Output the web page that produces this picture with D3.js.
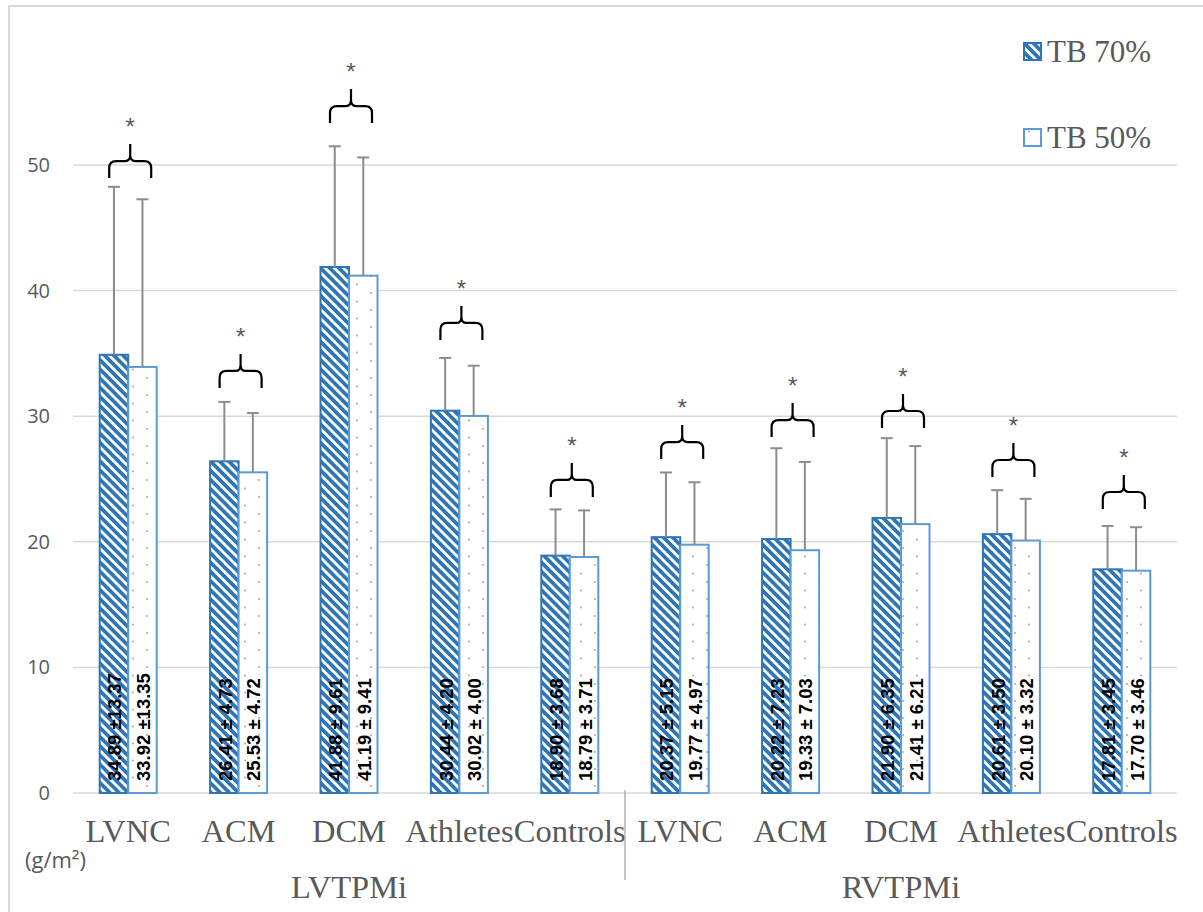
<!DOCTYPE html>
<html><head><meta charset="utf-8">
<script src="https://cdn.jsdelivr.net/npm/d3@7"></script>
<style>html,body{margin:0;padding:0;background:#fff;}svg{display:block;}</style>
</head><body>
<script>
const groups = ["LVTPMi", "RVTPMi"];
const categories = ["LVNC", "ACM", "DCM", "Athletes", "Controls", "LVNC", "ACM", "DCM", "Athletes", "Controls"];
const groupOf = [0,0,0,0,0,1,1,1,1,1];
const seriesNames = ["TB 70%", "TB 50%"];
const tb70 = [34.89, 26.41, 41.88, 30.44, 18.90, 20.37, 20.22, 21.90, 20.61, 17.81];
const tb70sd = [13.37, 4.73, 9.61, 4.20, 3.68, 5.15, 7.23, 6.35, 3.50, 3.45];
const tb50 = [33.92, 25.53, 41.19, 30.02, 18.79, 19.77, 19.33, 21.41, 20.10, 17.70];
const tb50sd = [13.35, 4.72, 9.41, 4.00, 3.71, 4.97, 7.03, 6.21, 3.32, 3.46];
const braceLevel = [48.96, 32.25, 53.34, 36.07, 23.57, 26.59, 28.34, 29.06, 25.16, 22.61];
const yTicks = [0, 10, 20, 30, 40, 50];
const unitLabel = "(g/m²)";

const W = 1203, H = 912;
const svg = d3.select("body").append("svg").attr("width", W).attr("height", H);
const defs = svg.append("defs");

// stripe pattern
const p1 = defs.append("pattern").attr("id","stripes").attr("patternUnits","userSpaceOnUse")
  .attr("width",6.5).attr("height",6.5).attr("patternTransform","rotate(-45)");
p1.append("rect").attr("width",6.5).attr("height",6.5).attr("fill","#2e75b6");
p1.append("rect").attr("x",0).attr("width",2.8).attr("height",6.5).attr("fill","#fff");
// dots pattern
const p2 = defs.append("pattern").attr("id","dots").attr("patternUnits","userSpaceOnUse")
  .attr("width",28).attr("height",17);
p2.append("rect").attr("width",28).attr("height",17).attr("fill","#fff");
p2.append("circle").attr("cx",7).attr("cy",4).attr("r",1).attr("fill","#a6a6a6");
p2.append("circle").attr("cx",21).attr("cy",12.5).attr("r",1).attr("fill","#a6a6a6");

// outer border
svg.append("rect").attr("x",9).attr("y",6).attr("width",W+20).attr("height",H+20)
  .attr("fill","none").attr("stroke","#d9d9d9").attr("stroke-width",2);

const keys = categories.map((c,i)=>i);
const x = d3.scaleBand().domain(keys).range([73, 1177]);
const y = d3.scaleLinear().domain([0, 50]).range([793, 165]);
const bw = 28.5;

// gridlines
svg.append("g").selectAll("line").data(yTicks).join("line")
  .attr("x1",73).attr("x2",1177).attr("y1",d=>y(d)).attr("y2",d=>y(d))
  .attr("stroke","#d9d9d9").attr("stroke-width",1.5);

// y axis labels
const yAxis = d3.axisLeft(y).tickValues(yTicks).tickSize(0).tickPadding(0);
const ya = svg.append("g").attr("transform","translate(50,0)").call(yAxis);
ya.select(".domain").remove();
ya.selectAll("text").attr("font-family","Open Sans, Liberation Sans, sans-serif")
  .attr("font-size",20).attr("fill","#595959");

const cx = i => x(i) + x.bandwidth()/2;

// bars
const g = svg.append("g");
g.selectAll("rect.b70").data(keys).join("rect").attr("class","b70")
  .attr("x",i=>cx(i)-bw).attr("width",bw)
  .attr("y",i=>y(tb70[i])).attr("height",i=>y(0)-y(tb70[i]))
  .attr("fill","url(#stripes)").attr("stroke","#2e75b6").attr("stroke-width",2);
g.selectAll("rect.b50").data(keys).join("rect").attr("class","b50")
  .attr("x",i=>cx(i)).attr("width",bw)
  .attr("y",i=>y(tb50[i])).attr("height",i=>y(0)-y(tb50[i]))
  .attr("fill","url(#dots)").attr("stroke","#5b9bd5").attr("stroke-width",2);

// error bars
function errBars(vals, sds, off) {
  const eg = svg.append("g").attr("stroke","#8c8c8c").attr("stroke-width",2);
  keys.forEach(i=>{
    const xc = cx(i) + off;
    eg.append("line").attr("x1",xc).attr("x2",xc).attr("y1",y(vals[i])).attr("y2",y(vals[i]+sds[i]));
    eg.append("line").attr("x1",xc-6).attr("x2",xc+6).attr("y1",y(vals[i]+sds[i])).attr("y2",y(vals[i]+sds[i]));
  });
}
errBars(tb70, tb70sd, -bw/2);
errBars(tb50, tb50sd, bw/2);

// data labels
const fmt = (v,s) => v.toFixed(2) + " ±" + (s < 10 ? " " : "") + s.toFixed(2);
function labels(vals, sds, off) {
  svg.append("g").selectAll("text").data(keys).join("text")
    .attr("transform", i => `translate(${cx(i)+off+1},${y(0)-12}) rotate(-90)`)
    .attr("dominant-baseline","central")
    .attr("font-family","Liberation Sans, Arial, sans-serif").attr("font-weight","bold")
    .attr("font-size",18.5).attr("fill","#000")
    .text(i=>fmt(vals[i], sds[i]));
}
labels(tb70, tb70sd, -bw/2);
labels(tb50, tb50sd, bw/2);

// braces + asterisks
const bg = svg.append("g");
keys.forEach(i=>{
  const xc = cx(i) + 2, y0 = y(braceLevel[i]);
  const x0 = xc - 21, x1 = xc + 21;
  const d = `M${x0},${y0} L${x0},${y0-10} Q${x0},${y0-17} ${x0+7},${y0-17} L${xc-5},${y0-17} Q${xc},${y0-17} ${xc},${y0-23} L${xc},${y0-34}` +
            ` M${x1},${y0} L${x1},${y0-10} Q${x1},${y0-17} ${x1-7},${y0-17} L${xc+5},${y0-17} Q${xc},${y0-17} ${xc},${y0-23}`;
  bg.append("path").attr("d",d).attr("fill","none").attr("stroke","#000").attr("stroke-width",2.2);
  bg.append("text").attr("x",xc).attr("y",y0-56+13).attr("text-anchor","middle")
    .attr("font-family","Liberation Sans, Arial, sans-serif").attr("font-size",24).attr("fill","#595959").text("*");
});

// category labels
svg.append("g").selectAll("text").data(keys).join("text")
  .attr("x",i=>cx(i)).attr("y",842).attr("text-anchor","middle")
  .attr("font-family","Liberation Serif, Times New Roman, serif").attr("font-size",32.5).attr("fill","#595959")
  .text(i=>categories[i]);

// group labels
groups.forEach((gname, gi)=>{
  const idx = keys.filter(i=>groupOf[i]===gi);
  const gx = (x(idx[0]) + x(idx[idx.length-1]) + x.bandwidth())/2;
  svg.append("text").attr("x",gx).attr("y",898).attr("text-anchor","middle")
    .attr("font-family","Liberation Serif, Times New Roman, serif").attr("font-size",32.5).attr("fill","#595959")
    .text(gname);
});
// divider between groups
const divX = x(5);
svg.append("line").attr("x1",divX).attr("x2",divX).attr("y1",790).attr("y2",880)
  .attr("stroke","#a6a6a6").attr("stroke-width",1.3);

// unit label
svg.append("text").attr("x",25).attr("y",868)
  .attr("font-family","Open Sans, Liberation Sans, sans-serif").attr("font-size",22).attr("fill","#595959")
  .text(unitLabel);

// legend
const lg = svg.append("g");
[["url(#stripes)","#2e75b6",52],["url(#dots)","#5b9bd5",138]].forEach((s,k)=>{
  lg.append("rect").attr("x",1024).attr("y",s[2]-9).attr("width",17).attr("height",17)
    .attr("fill",s[0]).attr("stroke",s[1]).attr("stroke-width",2);
  lg.append("text").attr("x",1047).attr("y",s[2]+10)
    .attr("font-family","Liberation Serif, Times New Roman, serif").attr("font-size",31).attr("fill","#595959")
    .text(seriesNames[k]);
});
</script>
</body></html>
